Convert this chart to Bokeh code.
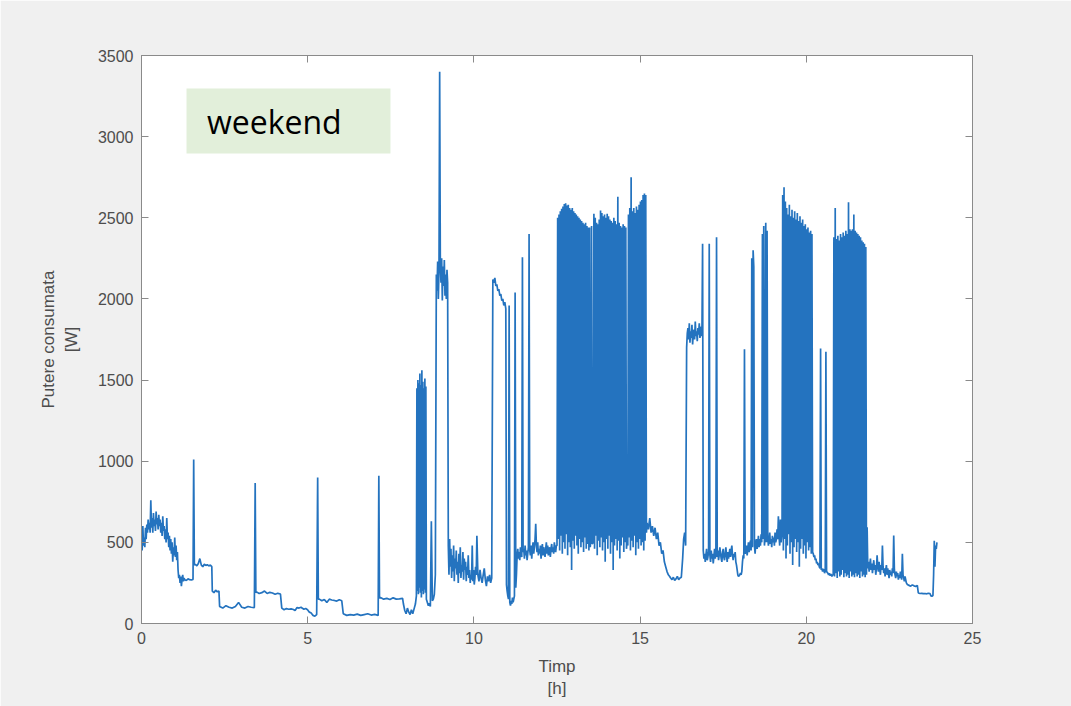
import numpy as np
from bokeh.plotting import figure
from bokeh.models import Range1d, LinearAxis, FixedTicker, BoxAnnotation, Label
from bokeh.embed import file_html
from bokeh.resources import INLINE

# Power readings over one weekend day, stored as runs of evenly spaced samples:
# (start hour, sampling step in hours, watts)
early_noise = (0.00, 0.02, [560, 450, 600, 480, 530, 470, 590, 520, 610, 560, 640, 580, 620, 560,
                            760, 590, 650, 560, 680, 600, 640, 570, 690, 610, 650, 580, 670, 600,
                            640, 560, 620, 540, 660, 570, 600, 520, 580, 500, 650, 520, 560, 470,
                            540, 450, 520, 430, 500, 380, 470, 420, 530, 410, 480, 390, 440])
early_drop = (1.10, 0.02, [330, 280, 300, 250, 290, 230, 270, 300, 260, 280])
early_low = (1.30, 0.05, [270, 265, 275, 270, 268, 272])
spike_1 = (1.57, 0.02, [1010, 360])
step_360 = (1.62, 0.045, [365, 355, 370, 400, 360, 350, 365, 358, 362, 355, 360, 350])
step_200 = (2.13, 0.05, [200, 190, 205, 195, 200])
step_100 = (2.35, 0.095, [105, 95, 110, 100, 95, 105, 130, 100, 95, 105, 100, 98])
spike_2 = (3.42, 0.02, [865, 190])
step_190 = (3.46, 0.08, [195, 185, 190, 200, 185, 192, 188, 180, 186, 182])
step_90 = (4.22, 0.07, [95, 85, 92, 88, 90, 86])
step_95 = (4.62, 0.06, [80, 98, 95, 100])
step_50 = (4.83, 0.055, [95, 88, 92, 85, 70, 65, 50, 45, 55])
spike_3 = (5.30, 0.02, [900, 150])
step_145 = (5.35, 0.075, [150, 140, 148, 130, 150, 145, 142, 138, 146, 140])
step_55 = (6.07, 0.105, [60, 50, 55, 52, 58, 50, 55, 60, 52, 56, 50])
spike_4 = (7.14, 0.02, [910, 155])
step_155 = (7.19, 0.095, [160, 150, 155, 148, 158, 150, 152, 155])
dawn_dip = (7.88, 0.04, [120, 80, 60, 95, 70, 55, 85, 60, 90, 120])
burst_1500 = (8.27, 0.015, [170, 1450, 200, 1500, 180, 1480, 220, 1540, 190, 1470, 160, 1560,
                            200, 1490, 180, 1450, 210, 1510, 190, 1460, 150])
pre_kettle = (8.60, 0.03, [130, 110, 125, 105, 630, 140, 150, 180, 300])
band_2200 = (8.87, 0.02, [2150, 2050, 2230, 2000, 2180, 3400, 2220, 2100, 2250, 1990, 2200,
                          2080, 2240, 2020, 2150, 2000, 2180, 2100])
morning_noise = (9.23, 0.02, [480, 300, 520, 350, 460, 280, 420, 320, 480, 260, 400, 340, 450,
                              300, 380, 250, 430, 310, 470, 280, 360, 320, 440, 270, 400, 330,
                              380, 260, 350, 300, 420, 280, 330, 250, 300, 270, 480, 260, 330,
                              240, 280, 350, 300, 540])
morning_low = (10.12, 0.032, [300, 260, 330, 280, 250, 300, 340, 270, 230, 290, 260, 300, 250, 280])
band_2100 = (10.57, 0.03, [2120, 2100, 2130, 2080, 2090, 2050, 2060, 2020, 2030, 1990, 2000,
                           1960, 1980, 1940])
late_dip = (10.98, 0.02, [240, 200, 170, 150, 1960, 130, 110, 140, 120, 160, 130, 150, 170,
                          2040, 220, 300])
noon_noise = (11.30, 0.02, [420, 460, 400, 440, 390, 470, 430, 410, 2257, 440, 460, 400, 480,
                            420, 450, 390, 430, 470, 2400, 450, 420, 480, 400, 460, 500, 430,
                            470, 520, 615, 480, 440, 500, 420, 460, 430, 480, 400, 450, 490,
                            420, 470, 440, 410, 460, 500, 430, 480, 420, 450, 470, 410, 460,
                            490, 440, 470, 430, 500, 460, 440, 480])
cycle_a = (12.50, 0.02, [480, 2500, 520, 2520, 450, 2540, 540, 2555, 430, 2570, 500, 2585, 460,
                         2590, 550, 2575, 420, 2580, 500, 2560, 470, 2550, 330, 2560, 510, 2540,
                         460, 2530, 540, 2520, 480, 2510, 430, 2500, 520, 2490, 470, 2480, 500,
                         2470, 440, 2460, 530, 2470, 460, 2450, 490, 2440, 450, 2440])
gap_ab = (13.50, 0.02, [470, 520, 2450, 490])
cycle_b = (13.59, 0.02, [500, 2525, 460, 2500, 540, 2470, 420, 2460, 510, 2490, 470, 2545, 530,
                         2530, 450, 2510, 500, 2520, 380, 2500, 520, 2525, 460, 2510, 540, 2490,
                         430, 2480, 500, 2470, 330, 2500, 480, 2480, 520, 2460, 450, 2630, 510,
                         2470, 400, 2450, 480, 2440, 530, 2460, 440, 2450, 500, 2440])
gap_bc = (14.59, 0.02, [460, 510])
cycle_c = (14.63, 0.02, [480, 2520, 530, 2560, 450, 2750, 510, 2540, 470, 2560, 540, 2530, 420,
                         2570, 500, 2550, 460, 2580, 520, 2600, 480, 2610, 500, 2640, 450, 2650,
                         510, 2640, 560])
after_c = (15.21, 0.04, [620, 580, 650, 560, 600, 540, 590, 520, 560, 480, 500, 430, 450, 380,
                         350, 320, 300, 290])
afternoon_low = (15.92, 0.04, [280, 270, 285, 265, 275, 290, 270, 280, 285])
afternoon_rise = (16.28, 0.03, [400, 520, 560, 480])
band_1800 = (16.40, 0.02, [1700, 1790, 1820, 1750, 1850, 1730, 1800, 1760, 1840, 1720, 1790,
                           1810, 1750, 1860, 1770, 1800, 1740, 1820, 1780, 1850, 1760, 1790,
                           1830, 1770])
evening_noise_1 = (16.88, 0.02, [2340, 450, 400, 430, 380, 420, 460, 390, 410, 440, 2340, 420,
                                 380, 450, 400, 430, 370, 410, 460, 400, 430, 2380, 410, 450, 390,
                                 420, 470, 430, 400, 380, 440, 460, 410, 390, 430, 470, 420, 380,
                                 440, 400, 430, 460, 410, 450, 480, 420, 390, 430, 410, 440, 380,
                                 360, 330, 300, 290, 295, 300, 310])
evening_noise_2 = (18.04, 0.02, [300, 320, 380, 420, 400, 1690, 430, 450, 480, 420, 460, 500, 440,
                                 480, 510, 450, 2250, 470, 2300, 2200, 480, 430, 500, 520, 460,
                                 490, 540, 470, 520, 480, 550, 500, 2400, 520, 2450, 480, 530,
                                 2470, 500, 2420, 540, 480, 510, 560, 490, 520, 470, 540, 500,
                                 530, 480, 560, 500, 520, 580, 520, 660])
pre_d = (19.18, 0.02, [540, 480, 640, 500])
cycle_d = (19.27, 0.02, [560, 2640, 450, 2688, 520, 2600, 400, 2560, 480, 2520, 550, 2580, 430,
                         2510, 500, 2550, 360, 2500, 470, 2540, 520, 2490, 440, 2530, 500, 2480,
                         350, 2510, 460, 2470, 520, 2490, 430, 2450, 480, 2460, 400, 2430, 500,
                         2440, 450, 2410, 470, 2420, 430, 2400])
after_d = (20.19, 0.02, [440, 430, 410, 420, 390, 400, 370, 380, 360, 370, 350, 340, 1694, 330,
                         340, 320, 335, 330, 310, 325, 1674, 320, 315, 310, 300, 310, 295, 305,
                         300, 290, 300])
cycle_e = (20.81, 0.02, [300, 2380, 290, 2560, 310, 2370, 280, 2390, 320, 2360, 290, 2400, 300,
                         2380, 330, 2410, 285, 2390, 310, 2420, 290, 2400, 300, 2596, 280, 2430,
                         320, 2420, 290, 2430, 300, 2520, 285, 2420, 310, 2410, 290, 2400, 300,
                         2390, 280, 2380, 320, 2360, 290, 2350, 300, 2340, 285, 2320, 300])
night_noise = (21.83, 0.02, [593, 340, 380, 320, 360, 400, 330, 370, 310, 350, 390, 330, 360, 300,
                             340, 420, 350, 320, 380, 340, 300, 360, 330, 480, 350, 310, 340, 290,
                             330, 360, 300, 340, 310, 280, 330, 300, 320, 290, 340, 310, 542, 330,
                             300, 280, 320, 290, 310, 270, 300, 280, 320, 290, 270, 430, 300, 280,
                             260, 290, 270, 250])
night_235 = (23.04, 0.05, [240, 235, 230, 238, 232, 228, 235])
night_185 = (23.37, 0.05, [188, 185, 186, 184, 185, 183, 186, 185])
night_170 = (23.75, 0.03, [170, 168, 172])
last_rise = (23.83, 0.02, [300, 510, 350, 480, 460, 500])

runs = [early_noise, early_drop, early_low, spike_1, step_360, step_200, step_100, spike_2,
        step_190, step_90, step_95, step_50, spike_3, step_145, step_55, spike_4, step_155,
        dawn_dip, burst_1500, pre_kettle, band_2200, morning_noise, morning_low, band_2100,
        late_dip, noon_noise, cycle_a, gap_ab, cycle_b, gap_bc, cycle_c, after_c, afternoon_low,
        afternoon_rise, band_1800, evening_noise_1, evening_noise_2, pre_d, cycle_d, after_d,
        cycle_e, night_noise, night_235, night_185, night_170, last_rise]

hours = np.concatenate([t0 + step * np.arange(len(w)) for t0, step, w in runs])
watts = np.concatenate([np.asarray(w, dtype=float) for _, _, w in runs])

x_ticks = [0, 5, 10, 15, 20, 25]
y_ticks = [0, 500, 1000, 1500, 2000, 2500, 3000, 3500]

FONT = "Liberation Sans"
AXIS_GREY = "#8a8a8a"
TEXT_GREY = "#4d4d4d"

p = figure(width=1071, height=706,
           x_range=Range1d(0, 25), y_range=Range1d(0, 3500),
           output_backend="svg", toolbar_location=None,
           min_border_left=141, min_border_right=99,
           min_border_top=55, min_border_bottom=83,
           background_fill_color="white", border_fill_color="#f0f0f0",
           x_axis_label="Timp\n[h]", y_axis_label="Putere consumata\n[W]")
p.grid.visible = False
p.outline_line_color = AXIS_GREY

p.line(hours, watts, line_color="#2473bf", line_width=1.7)


def style_axis(ax, ticks, show_labels):
    ax.ticker = FixedTicker(ticks=ticks)
    ax.axis_line_color = AXIS_GREY
    ax.major_tick_line_color = AXIS_GREY
    ax.major_tick_in = 7
    ax.major_tick_out = 0
    ax.minor_tick_line_color = None
    ax.major_label_text_font = FONT
    ax.major_label_text_font_size = "16px"
    ax.major_label_text_color = TEXT_GREY if show_labels else None
    ax.major_label_standoff = 8
    ax.axis_label_text_font = FONT
    ax.axis_label_text_font_size = "17px"
    ax.axis_label_text_font_style = "normal"
    ax.axis_label_text_color = TEXT_GREY


style_axis(p.xaxis[0], x_ticks, True)
style_axis(p.yaxis[0], y_ticks, True)
p.xaxis[0].axis_label_standoff = 10
p.yaxis[0].axis_label_standoff = 14

top_axis = LinearAxis()
style_axis(top_axis, x_ticks, False)
p.add_layout(top_axis, "above")
right_axis = LinearAxis()
style_axis(right_axis, y_ticks, False)
p.add_layout(right_axis, "right")

# Pasted caption box
p.add_layout(BoxAnnotation(left=1.354, right=7.49, bottom=2896, top=3296,
                           fill_color="#e2efda", fill_alpha=1.0, line_color=None))
p.add_layout(Label(x=1.97, y=3096, text="weekend", text_font="Open Sans",
                   text_font_size="32px", text_baseline="middle", text_color="black"))

open("out.html", "w").write(file_html(p, INLINE))
